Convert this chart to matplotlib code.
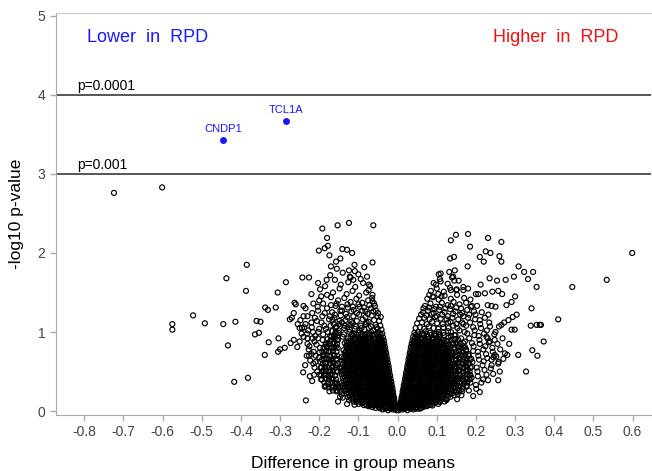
import numpy as np
import matplotlib
matplotlib.use("Agg")
import matplotlib.pyplot as plt

plt.rcParams['font.family'] = ['Liberation Sans', 'DejaVu Sans']

# ---------------- data (difference in group means, -log10 p) ----------------
# dense core, lower in RPD (negative difference)
down_core = [
 (-.003,.01),(-.007,.03),(-.012,.02),(-.018,.03),(-.024,.01),(-.031,.03),(-.038,.02),
 (-.004,.05),(-.009,.06),(-.015,.04),(-.021,.06),(-.027,.05),(-.034,.04),(-.041,.06),(-.048,.05),(-.056,.04),(-.064,.05),(-.073,.06),
 (-.006,.09),(-.011,.1),(-.017,.08),(-.023,.1),(-.029,.09),(-.036,.08),(-.043,.1),(-.05,.09),(-.057,.08),(-.065,.1),(-.072,.09),(-.08,.08),(-.089,.1),(-.099,.09),(-.11,.08),
 (-.008,.13),(-.014,.14),(-.02,.12),(-.026,.14),(-.033,.13),(-.04,.12),(-.047,.14),(-.054,.13),(-.061,.12),(-.068,.14),(-.076,.13),(-.084,.12),(-.092,.14),(-.101,.13),(-.112,.12),(-.124,.14),
 (-.009,.17),(-.015,.18),(-.022,.16),(-.029,.18),(-.036,.17),(-.043,.16),(-.05,.18),(-.057,.17),(-.064,.16),(-.071,.18),(-.079,.17),(-.087,.16),(-.095,.18),(-.104,.17),(-.114,.16),(-.127,.18),(-.14,.17),
 (-.011,.21),(-.017,.22),(-.024,.2),(-.031,.22),(-.038,.21),(-.045,.2),(-.052,.22),(-.059,.21),(-.066,.2),(-.074,.22),(-.082,.21),(-.09,.2),(-.098,.22),(-.107,.21),(-.117,.2),(-.129,.22),(-.143,.21),
 (-.012,.25),(-.019,.26),(-.026,.24),(-.033,.26),(-.04,.25),(-.047,.24),(-.055,.26),(-.062,.25),(-.069,.24),(-.077,.26),(-.085,.25),(-.093,.24),(-.101,.26),(-.11,.25),(-.12,.24),(-.132,.26),(-.146,.25),
 (-.013,.29),(-.02,.3),(-.027,.28),(-.034,.3),(-.041,.29),(-.048,.28),(-.056,.3),(-.063,.29),(-.071,.28),(-.078,.3),(-.086,.29),(-.094,.28),(-.103,.3),(-.112,.29),(-.122,.28),(-.134,.3),(-.15,.29),
 (-.015,.33),(-.021,.34),(-.028,.32),(-.036,.34),(-.043,.33),(-.05,.32),(-.058,.34),(-.065,.33),(-.073,.32),(-.08,.34),(-.088,.33),(-.096,.32),(-.105,.34),(-.114,.33),(-.124,.32),(-.136,.34),(-.152,.33),
 (-.016,.37),(-.023,.38),(-.03,.36),(-.037,.38),(-.044,.37),(-.052,.36),(-.059,.38),(-.067,.37),(-.074,.36),(-.082,.38),(-.09,.37),(-.098,.36),(-.107,.38),(-.116,.37),(-.126,.36),(-.138,.38),
 (-.018,.41),(-.025,.42),(-.032,.4),(-.039,.42),(-.046,.41),(-.053,.4),(-.061,.42),(-.068,.41),(-.076,.4),(-.083,.42),(-.091,.41),(-.099,.4),(-.108,.42),(-.117,.41),(-.127,.4),(-.14,.42),
 (-.019,.45),(-.026,.46),(-.033,.44),(-.04,.46),(-.048,.45),(-.055,.44),(-.062,.46),(-.07,.45),(-.077,.44),(-.085,.46),(-.093,.45),(-.101,.44),(-.11,.46),(-.119,.45),(-.13,.44),(-.142,.46),
 (-.021,.49),(-.028,.5),(-.035,.48),(-.042,.5),(-.049,.49),(-.057,.48),(-.064,.5),(-.071,.49),(-.079,.48),(-.087,.5),(-.095,.49),(-.103,.48),(-.112,.5),(-.121,.49),(-.132,.48),(-.145,.5),
 (-.022,.53),(-.029,.54),(-.036,.52),(-.044,.54),(-.051,.53),(-.058,.52),(-.066,.54),(-.073,.53),(-.081,.52),(-.089,.54),(-.097,.53),(-.105,.52),(-.114,.54),(-.123,.53),(-.134,.52),(-.147,.54),
 (-.023,.57),(-.03,.58),(-.038,.56),(-.045,.58),(-.052,.57),(-.06,.56),(-.067,.58),(-.075,.57),(-.083,.56),(-.091,.58),(-.099,.57),(-.107,.56),(-.116,.58),(-.126,.57),(-.137,.56),
 (-.025,.61),(-.032,.62),(-.039,.6),(-.047,.62),(-.054,.61),(-.061,.6),(-.069,.62),(-.077,.61),(-.085,.6),(-.093,.62),(-.101,.61),(-.109,.6),(-.118,.62),(-.128,.61),(-.14,.6),
 (-.026,.65),(-.033,.66),(-.041,.64),(-.048,.66),(-.056,.65),(-.063,.64),(-.071,.66),(-.079,.65),(-.087,.64),(-.095,.66),(-.103,.65),(-.111,.64),(-.12,.66),(-.13,.65),(-.142,.64),
 (-.028,.69),(-.035,.7),(-.042,.68),(-.05,.7),(-.057,.69),(-.065,.68),(-.073,.7),(-.081,.69),(-.089,.68),(-.097,.7),(-.105,.69),(-.113,.68),(-.122,.7),(-.132,.69),(-.144,.68),
 (-.029,.73),(-.036,.74),(-.044,.72),(-.051,.74),(-.059,.73),(-.067,.72),(-.075,.74),(-.083,.73),(-.091,.72),(-.099,.74),(-.107,.73),(-.116,.72),(-.125,.74),(-.135,.73),
 (-.031,.77),(-.038,.78),(-.045,.76),(-.053,.78),(-.061,.77),(-.069,.76),(-.077,.78),(-.085,.77),(-.093,.76),(-.101,.78),(-.11,.77),(-.119,.76),(-.128,.78),(-.138,.77),
 (-.032,.81),(-.04,.82),(-.047,.8),(-.055,.82),(-.063,.81),(-.071,.8),(-.079,.82),(-.087,.81),(-.095,.8),(-.104,.82),(-.113,.81),(-.122,.8),(-.131,.82),
 (-.034,.85),(-.041,.86),(-.049,.84),(-.057,.86),(-.065,.85),(-.073,.84),(-.081,.86),(-.09,.85),(-.098,.84),(-.107,.86),(-.116,.85),(-.125,.84),(-.135,.86),
 (-.035,.89),(-.043,.9),(-.051,.88),(-.059,.9),(-.067,.89),(-.075,.88),(-.084,.9),(-.092,.89),(-.101,.88),(-.11,.9),(-.12,.89),(-.13,.88),
 (-.037,.93),(-.046,.94),(-.055,.92),(-.064,.95),(-.073,.93),(-.083,.92),(-.093,.94),(-.103,.93),(-.114,.95),(-.126,.92),(-.14,.94),
 (-.039,.98),(-.048,.99),(-.058,.97),(-.068,1.0),(-.078,.98),(-.089,.97),(-.1,.99),(-.111,.98),(-.123,1.0),(-.137,.97),(-.151,.99),
 (-.041,1.03),(-.051,1.04),(-.062,1.02),(-.073,1.05),(-.085,1.03),(-.097,1.02),(-.109,1.04),(-.122,1.03),(-.136,1.05),(-.15,1.02),
 (-.044,1.08),(-.056,1.09),(-.068,1.07),(-.081,1.1),(-.094,1.08),(-.107,1.07),(-.121,1.09),(-.135,1.08),(-.149,1.1),
 (-.047,1.14),(-.06,1.15),(-.074,1.13),(-.089,1.16),(-.104,1.14),(-.118,1.13),(-.133,1.15),(-.148,1.14),
 (-.051,1.2),(-.066,1.21),(-.082,1.19),(-.098,1.22),(-.113,1.2),(-.129,1.19),(-.145,1.21),
]

# more of the densest part, lower in RPD
down_core2 = [
 (-.005,.035),(-.01,.04),(-.02,.035),(-.028,.04),(-.045,.035),
 (-.005,.07),(-.013,.07),(-.02,.075),(-.03,.07),(-.038,.075),(-.046,.07),(-.053,.075),(-.061,.07),(-.069,.075),(-.078,.07),(-.086,.075),
 (-.009,.11),(-.015,.11),(-.021,.115),(-.029,.11),(-.037,.115),(-.045,.11),(-.052,.115),(-.06,.11),(-.068,.115),(-.076,.11),(-.084,.115),(-.094,.11),(-.105,.115),
 (-.011,.15),(-.018,.155),(-.025,.15),(-.032,.155),(-.04,.15),(-.047,.155),(-.054,.15),(-.062,.155),(-.07,.15),(-.078,.155),(-.087,.15),(-.096,.155),(-.106,.15),(-.118,.155),
 (-.012,.19),(-.019,.195),(-.026,.19),(-.033,.195),(-.041,.19),(-.048,.195),(-.055,.19),(-.063,.195),(-.07,.19),(-.078,.195),(-.086,.19),(-.094,.195),(-.103,.19),(-.112,.195),(-.122,.19),
 (-.014,.23),(-.021,.235),(-.028,.23),(-.035,.235),(-.043,.23),(-.05,.235),(-.058,.23),(-.065,.235),(-.073,.23),(-.081,.235),(-.089,.23),(-.097,.235),(-.106,.23),(-.115,.235),(-.125,.23),
 (-.016,.27),(-.023,.275),(-.03,.27),(-.037,.275),(-.044,.27),(-.052,.275),(-.059,.27),(-.067,.275),(-.074,.27),(-.082,.275),(-.09,.27),(-.098,.275),(-.107,.27),(-.116,.275),(-.126,.27),(-.139,.275),
 (-.017,.31),(-.024,.315),(-.031,.31),(-.038,.315),(-.045,.31),(-.053,.315),(-.06,.31),(-.068,.315),(-.075,.31),(-.083,.315),(-.091,.31),(-.099,.315),(-.108,.31),(-.117,.315),(-.128,.31),(-.141,.315),
 (-.019,.35),(-.026,.355),(-.033,.35),(-.04,.355),(-.048,.35),(-.055,.355),(-.063,.35),(-.07,.355),(-.078,.35),(-.086,.355),(-.094,.35),(-.102,.355),(-.111,.35),(-.12,.355),(-.13,.35),(-.143,.355),
 (-.021,.39),(-.028,.395),(-.035,.39),(-.042,.395),(-.05,.39),(-.057,.395),(-.065,.39),(-.072,.395),(-.08,.39),(-.087,.395),(-.095,.39),(-.103,.395),(-.112,.39),(-.121,.395),(-.132,.39),
 (-.022,.43),(-.029,.435),(-.036,.43),(-.044,.435),(-.051,.43),(-.058,.435),(-.066,.43),(-.073,.435),(-.081,.43),(-.089,.435),(-.097,.43),(-.105,.435),(-.114,.43),(-.124,.435),(-.135,.43),
 (-.024,.47),(-.031,.475),(-.038,.47),(-.045,.475),(-.053,.47),(-.06,.475),(-.068,.47),(-.075,.475),(-.083,.47),(-.091,.475),(-.099,.47),(-.107,.475),(-.116,.47),(-.126,.475),(-.137,.47),
 (-.025,.51),(-.032,.515),(-.04,.51),(-.047,.515),(-.055,.51),(-.062,.515),(-.07,.51),(-.077,.515),(-.085,.51),(-.093,.515),(-.101,.51),(-.109,.515),(-.118,.51),(-.128,.515),(-.139,.51),
 (-.026,.55),(-.034,.555),(-.041,.55),(-.049,.555),(-.056,.55),(-.064,.555),(-.071,.55),(-.079,.555),(-.087,.55),(-.095,.555),(-.103,.55),(-.111,.555),(-.121,.55),(-.131,.555),(-.142,.55),
 (-.028,.59),(-.035,.595),(-.043,.59),(-.05,.595),(-.058,.59),(-.065,.595),(-.073,.59),(-.081,.595),(-.089,.59),(-.097,.595),(-.105,.59),(-.114,.595),(-.123,.59),(-.133,.595),
 (-.029,.63),(-.037,.635),(-.044,.63),(-.052,.635),(-.059,.63),(-.067,.635),(-.075,.63),(-.083,.635),(-.091,.63),(-.099,.635),(-.107,.63),(-.116,.635),(-.125,.63),(-.135,.635),
 (-.031,.67),(-.038,.675),(-.046,.67),(-.053,.675),(-.061,.67),(-.069,.675),(-.077,.67),(-.085,.675),(-.093,.67),(-.101,.675),(-.109,.67),(-.118,.675),(-.127,.67),(-.137,.675),
 (-.032,.71),(-.04,.715),(-.047,.71),(-.055,.715),(-.063,.71),(-.071,.715),(-.079,.71),(-.087,.715),(-.095,.71),(-.103,.715),(-.111,.71),(-.12,.715),(-.13,.71),
 (-.034,.75),(-.041,.755),(-.049,.75),(-.057,.755),(-.065,.75),(-.073,.755),(-.081,.75),(-.089,.755),(-.097,.75),(-.106,.755),(-.114,.75),(-.123,.755),(-.133,.75),
 (-.035,.79),(-.043,.795),(-.051,.79),(-.059,.795),(-.067,.79),(-.075,.795),(-.083,.79),(-.091,.795),(-.1,.79),(-.108,.795),(-.117,.79),(-.126,.795),
 (-.037,.83),(-.045,.835),(-.053,.83),(-.061,.835),(-.069,.83),(-.077,.835),(-.085,.83),(-.094,.835),(-.102,.83),(-.111,.835),(-.12,.83),(-.13,.835),
 (-.039,.87),(-.047,.875),(-.055,.87),(-.063,.875),(-.071,.87),(-.08,.875),(-.088,.87),(-.097,.875),(-.106,.87),(-.115,.875),(-.125,.87),
 (-.041,.915),(-.05,.92),(-.06,.915),(-.069,.92),(-.078,.915),(-.088,.92),(-.098,.915),(-.108,.92),(-.12,.915),
 (-.043,.965),(-.053,.97),(-.063,.965),(-.073,.97),(-.083,.965),(-.094,.97),(-.105,.965),(-.117,.97),
]

# outer dense band, lower in RPD
down_band = [
 (-.156,.25),(-.165,.26),(-.174,.25),
 (-.158,.3),(-.167,.31),(-.176,.3),(-.185,.31),
 (-.16,.35),(-.169,.36),(-.178,.35),(-.187,.36),
 (-.157,.4),(-.166,.41),(-.175,.4),(-.184,.41),(-.193,.4),
 (-.159,.45),(-.168,.46),(-.177,.45),(-.186,.46),(-.195,.45),
 (-.156,.5),(-.165,.51),(-.174,.5),(-.183,.51),(-.192,.5),
 (-.158,.55),(-.167,.56),(-.176,.55),(-.185,.56),(-.194,.55),
 (-.155,.6),(-.164,.61),(-.173,.6),(-.182,.61),(-.191,.6),
 (-.157,.65),(-.166,.66),(-.175,.65),(-.184,.66),(-.193,.65),
 (-.154,.7),(-.163,.71),(-.172,.7),(-.181,.71),(-.19,.7),
 (-.156,.75),(-.165,.76),(-.174,.75),(-.183,.76),(-.192,.75),
 (-.153,.8),(-.162,.81),(-.171,.8),(-.18,.81),(-.189,.8),
 (-.155,.85),(-.164,.86),(-.173,.85),(-.182,.86),
 (-.152,.9),(-.161,.91),(-.17,.9),(-.179,.91),
 (-.154,.95),(-.163,.96),(-.172,.95),
 (-.158,1.0),(-.167,1.01),
 (-.05,1.24),(-.062,1.26),(-.076,1.23),(-.09,1.27),(-.104,1.24),(-.118,1.26),(-.132,1.23),(-.146,1.27),(-.16,1.22),
 (-.058,1.33),(-.072,1.34),(-.086,1.31),(-.1,1.35),(-.114,1.32),(-.128,1.35),(-.142,1.32),(-.156,1.36),(-.17,1.34),
 (-.054,1.06),(-.079,1.12),(-.092,1.05),(-.115,1.11),(-.128,1.06),(-.142,1.12),(-.156,1.07),(-.166,1.15),(-.158,.98),
]

# scattered points, lower in RPD
down_scatter = [
 (-.155,.36),(-.16,.45),(-.158,.58),(-.162,.7),(-.157,.82),(-.16,.95),(-.163,1.1),(-.167,1.25),
 (-.168,.4),(-.172,.52),(-.17,.64),(-.175,.76),(-.172,.88),(-.178,1.0),(-.175,1.16),(-.18,1.3),
 (-.182,.46),(-.185,.6),(-.188,.72),(-.184,.84),(-.19,.97),(-.187,1.08),(-.192,1.2),(-.19,1.36),
 (-.196,.55),(-.2,.68),(-.198,.8),(-.203,.92),(-.2,1.04),(-.206,1.14),(-.203,1.27),
 (-.21,.62),(-.214,.75),(-.212,.88),(-.216,1.0),(-.22,1.12),(-.218,1.24),
 (-.226,.7),(-.23,.85),(-.228,1.02),(-.235,1.1),(-.24,.94),(-.244,1.05),(-.25,.88),
 (-.152,.12),(-.154,.26),(-.153,.5),(-.156,.66),(-.155,.9),(-.158,1.05),(-.161,1.18),(-.164,.3),
 (-.166,.56),(-.167,.8),(-.169,.94),(-.171,1.08),(-.173,1.2),(-.176,.44),(-.179,.66),(-.181,.82),
 (-.183,1.04),(-.186,1.24),(-.189,.52),(-.191,.9),(-.194,1.12),(-.197,.62),(-.199,.74),(-.202,1.0),
 (-.204,1.32),(-.207,.84),(-.209,.7),(-.211,1.18),(-.213,.46),(-.217,.92),(-.219,1.06),(-.223,.64),
 (-.227,.78),(-.231,.98),(-.236,.58),(-.24,1.2),
 (-.055,1.27),(-.068,1.3),(-.082,1.26),(-.097,1.32),(-.112,1.28),(-.127,1.31),(-.142,1.27),(-.158,1.33),
 (-.06,1.36),(-.075,1.4),(-.09,1.37),(-.105,1.42),(-.12,1.38),(-.136,1.43),(-.152,1.4),(-.17,1.44),
 (-.064,1.47),(-.08,1.5),(-.098,1.46),(-.115,1.52),(-.13,1.48),(-.148,1.55),(-.165,1.5),(-.18,1.47),
 (-.07,1.58),(-.088,1.62),(-.108,1.57),(-.126,1.63),(-.145,1.6),(-.16,1.66),(-.185,1.58),
 (-.078,1.7),(-.1,1.73),(-.12,1.69),(-.14,1.75),(-.172,1.72),
 (-.085,1.82),(-.11,1.85),(-.155,1.8),
 (-.192,2.31),(-.153,2.35),(-.124,2.38),(-.062,2.35),(-.18,2.19),(-.178,2.09),(-.186,2.06),(-.201,2.03),
 (-.174,1.97),(-.141,2.05),(-.129,2.04),(-.116,2.0),(-.157,1.89),(-.146,1.93),(-.17,1.83),(-.064,1.88),
 (-.124,1.78),(-.109,1.77),(-.094,1.67),(-.073,1.6),(-.074,1.53),(-.065,1.43),(-.064,1.39),(-.043,1.19),
 (-.203,1.62),(-.198,1.54),(-.181,1.66),(-.122,1.70),(-.113,1.66),
 (-.724,2.76),(-.601,2.83),(-.575,1.10),(-.575,1.03),(-.522,1.21),(-.492,1.11),(-.445,1.10),(-.414,1.13),
 (-.433,.83),(-.437,1.68),(-.385,1.85),(-.387,1.52),(-.417,.37),(-.382,.42),(-.364,.97),(-.354,.99),
 (-.36,1.14),(-.35,1.13),(-.338,1.31),(-.331,1.28),(-.339,.71),(-.329,.87),(-.306,1.5),(-.311,1.31),
 (-.304,.92),(-.305,.75),(-.3,.78),(-.288,.8),(-.285,1.63),(-.273,.86),(-.275,1.16),(-.263,1.37),
 (-.26,1.35),(-.265,1.24),(-.265,.9),(-.256,.81),(-.243,1.69),(-.226,1.69),(-.24,1.33),(-.235,1.3),
 (-.241,.49),(-.234,.135),(-.224,.44),(-.183,.32),(-.2,.46),(-.129,.09),(-.147,.18),(-.186,.31),
 (-.27,1.18),(-.255,1.1),(-.25,1.05),(-.245,.98),(-.23,.92),(-.225,.82),(-.22,.72),(-.232,.7),
 (-.215,.6),(-.212,.55),(-.205,.5),(-.218,.38),(-.195,.4),(-.23,1.2),(-.215,1.36),(-.2,1.4),
 (-.22,1.48),(-.195,1.45),(-.21,.95),(-.248,1.15),(-.238,1.06),
]

# dense core, higher in RPD (positive difference)
up_core = [
 (.003,.01),(.008,.03),(.013,.02),(.019,.03),(.025,.01),(.032,.03),(.04,.02),(.05,.03),
 (.005,.05),(.01,.06),(.016,.04),(.022,.06),(.028,.05),(.035,.04),(.042,.06),(.049,.05),(.057,.04),(.065,.05),(.074,.06),
 (.007,.09),(.012,.1),(.018,.08),(.024,.1),(.031,.09),(.038,.08),(.045,.1),(.052,.09),(.06,.08),(.068,.1),(.076,.09),(.085,.08),(.094,.1),(.104,.09),
 (.009,.13),(.015,.14),(.021,.12),(.028,.14),(.035,.13),(.042,.12),(.049,.14),(.057,.13),(.065,.12),(.073,.14),(.081,.13),(.09,.12),(.099,.14),(.109,.13),(.12,.12),
 (.01,.17),(.016,.18),(.023,.16),(.03,.18),(.037,.17),(.044,.16),(.052,.18),(.06,.17),(.068,.16),(.076,.18),(.084,.17),(.093,.16),(.102,.18),(.112,.17),(.123,.16),(.135,.18),
 (.012,.21),(.018,.22),(.025,.2),(.032,.22),(.04,.21),(.047,.2),(.055,.22),(.063,.21),(.071,.2),(.079,.22),(.087,.21),(.096,.2),(.105,.22),(.115,.21),(.126,.2),(.138,.22),
 (.013,.25),(.02,.26),(.027,.24),(.034,.26),(.041,.25),(.049,.24),(.057,.26),(.065,.25),(.073,.24),(.081,.26),(.089,.25),(.098,.24),(.107,.26),(.117,.25),(.128,.24),(.14,.26),
 (.015,.29),(.021,.3),(.028,.28),(.036,.3),(.043,.29),(.051,.28),(.059,.3),(.067,.29),(.075,.28),(.083,.3),(.091,.29),(.1,.28),(.109,.3),(.119,.29),(.13,.28),(.142,.3),
 (.016,.33),(.023,.34),(.03,.32),(.037,.34),(.045,.33),(.053,.32),(.061,.34),(.069,.33),(.077,.32),(.085,.34),(.093,.33),(.102,.32),(.111,.34),(.121,.33),(.132,.32),(.144,.34),
 (.018,.37),(.025,.38),(.032,.36),(.039,.38),(.047,.37),(.055,.36),(.063,.38),(.071,.37),(.079,.36),(.087,.38),(.095,.37),(.104,.36),(.113,.38),(.123,.37),(.134,.36),(.146,.38),
 (.019,.41),(.026,.42),(.033,.4),(.041,.42),(.049,.41),(.057,.4),(.065,.42),(.073,.41),(.081,.4),(.089,.42),(.097,.41),(.106,.4),(.115,.42),(.125,.41),(.136,.4),(.147,.42),
 (.021,.45),(.028,.46),(.035,.44),(.043,.46),(.051,.45),(.059,.44),(.067,.46),(.075,.45),(.083,.44),(.091,.46),(.099,.45),(.108,.44),(.117,.46),(.127,.45),(.138,.44),(.148,.46),
 (.022,.49),(.029,.5),(.037,.48),(.045,.5),(.053,.49),(.061,.48),(.069,.5),(.077,.49),(.085,.48),(.093,.5),(.101,.49),(.11,.48),(.119,.5),(.129,.49),(.14,.48),
 (.024,.53),(.031,.54),(.039,.52),(.047,.54),(.055,.53),(.063,.52),(.071,.54),(.079,.53),(.087,.52),(.095,.54),(.103,.53),(.112,.52),(.121,.54),(.131,.53),(.142,.52),
 (.025,.57),(.032,.58),(.04,.56),(.048,.58),(.056,.57),(.064,.56),(.072,.58),(.08,.57),(.088,.56),(.096,.58),(.105,.57),(.114,.56),(.123,.58),(.133,.57),(.144,.56),
 (.027,.61),(.034,.62),(.042,.6),(.05,.62),(.058,.61),(.066,.6),(.074,.62),(.082,.61),(.09,.6),(.098,.62),(.107,.61),(.116,.6),(.125,.62),(.135,.61),(.146,.6),
 (.028,.65),(.036,.66),(.044,.64),(.052,.66),(.06,.65),(.068,.64),(.076,.66),(.084,.65),(.092,.64),(.1,.66),(.109,.65),(.118,.64),(.127,.66),(.137,.65),
 (.03,.69),(.037,.7),(.045,.68),(.053,.7),(.061,.69),(.069,.68),(.077,.7),(.085,.69),(.093,.68),(.102,.7),(.111,.69),(.12,.68),(.129,.7),(.139,.69),
 (.031,.73),(.039,.74),(.047,.72),(.055,.74),(.063,.73),(.071,.72),(.079,.74),(.087,.73),(.095,.72),(.104,.74),(.113,.73),(.122,.72),(.131,.74),(.141,.73),
 (.033,.77),(.04,.78),(.048,.76),(.056,.78),(.064,.77),(.072,.76),(.081,.78),(.089,.77),(.097,.76),(.106,.78),(.115,.77),(.124,.76),(.133,.78),
 (.034,.81),(.042,.82),(.05,.8),(.058,.82),(.066,.81),(.074,.8),(.083,.82),(.091,.81),(.099,.8),(.108,.82),(.117,.81),(.126,.8),(.135,.82),
 (.036,.85),(.044,.86),(.052,.84),(.06,.86),(.068,.85),(.076,.84),(.085,.86),(.093,.85),(.102,.84),(.111,.86),(.12,.85),(.13,.84),
 (.038,.89),(.046,.9),(.054,.88),(.062,.9),(.07,.89),(.079,.88),(.088,.9),(.097,.89),(.106,.88),(.115,.9),(.125,.89),
 (.04,.94),(.049,.95),(.058,.93),(.067,.96),(.077,.94),(.087,.93),(.097,.95),(.107,.94),(.118,.96),(.13,.93),
 (.043,.99),(.052,1.0),(.062,.98),(.072,1.01),(.083,.99),(.094,.98),(.105,1.0),(.117,.99),(.129,1.01),
 (.046,1.05),(.057,1.06),(.068,1.04),(.08,1.07),(.092,1.05),(.104,1.04),(.117,1.06),(.13,1.05),
 (.05,1.11),(.062,1.12),(.075,1.1),(.088,1.13),(.101,1.11),(.115,1.1),(.129,1.12),
 (.055,1.17),(.068,1.18),(.082,1.16),(.096,1.19),(.11,1.17),(.125,1.16),(.14,1.18),
]

# more of the densest part, higher in RPD
up_core2 = [
 (.005,.035),(.011,.04),(.02,.035),(.03,.04),(.045,.035),(.06,.04),
 (.006,.07),(.014,.07),(.021,.075),(.028,.07),(.035,.075),(.042,.07),(.049,.075),(.056,.07),(.064,.075),(.072,.07),(.08,.075),(.089,.07),
 (.009,.11),(.015,.115),(.021,.11),(.028,.115),(.035,.11),(.042,.115),(.049,.11),(.056,.115),(.064,.11),(.072,.115),(.08,.11),(.089,.115),(.098,.11),(.108,.115),
 (.011,.15),(.018,.155),(.025,.15),(.032,.155),(.039,.15),(.046,.155),(.053,.15),(.061,.155),(.069,.15),(.077,.155),(.085,.15),(.094,.155),(.104,.15),(.114,.155),(.125,.15),
 (.013,.19),(.02,.195),(.027,.19),(.034,.195),(.041,.19),(.048,.195),(.056,.19),(.064,.195),(.072,.19),(.08,.195),(.088,.19),(.097,.195),(.107,.19),(.117,.195),(.129,.19),
 (.015,.23),(.022,.235),(.029,.23),(.036,.235),(.044,.23),(.052,.235),(.06,.23),(.068,.235),(.076,.23),(.084,.235),(.092,.23),(.101,.235),(.11,.23),(.12,.235),(.132,.23),
 (.016,.27),(.023,.275),(.031,.27),(.038,.275),(.046,.27),(.054,.275),(.062,.27),(.07,.275),(.078,.27),(.086,.275),(.094,.27),(.103,.275),(.112,.27),(.122,.275),(.134,.27),
 (.018,.31),(.025,.315),(.032,.31),(.04,.315),(.048,.31),(.056,.315),(.064,.31),(.072,.315),(.08,.31),(.088,.315),(.096,.31),(.105,.315),(.114,.31),(.124,.315),(.136,.31),
 (.02,.35),(.027,.355),(.034,.35),(.042,.355),(.05,.35),(.058,.355),(.066,.35),(.074,.355),(.082,.35),(.09,.355),(.098,.35),(.107,.355),(.116,.35),(.127,.355),(.138,.35),
 (.021,.39),(.028,.395),(.036,.39),(.044,.395),(.052,.39),(.06,.395),(.068,.39),(.076,.395),(.084,.39),(.092,.395),(.1,.39),(.109,.395),(.118,.39),(.129,.395),(.14,.39),
 (.023,.43),(.03,.435),(.038,.43),(.046,.435),(.054,.43),(.062,.435),(.07,.43),(.078,.435),(.086,.43),(.094,.435),(.103,.43),(.112,.435),(.121,.43),(.131,.435),(.142,.43),
 (.024,.47),(.032,.475),(.04,.47),(.048,.475),(.056,.47),(.064,.475),(.072,.47),(.08,.475),(.088,.47),(.096,.475),(.105,.47),(.114,.475),(.123,.47),(.133,.475),
 (.026,.51),(.034,.515),(.042,.51),(.05,.515),(.058,.51),(.066,.515),(.074,.51),(.082,.515),(.09,.51),(.098,.515),(.107,.51),(.116,.515),(.125,.51),(.135,.515),
 (.027,.55),(.035,.555),(.043,.55),(.051,.555),(.059,.55),(.067,.555),(.075,.55),(.083,.555),(.091,.55),(.1,.555),(.109,.55),(.118,.555),(.127,.55),(.137,.555),
 (.029,.59),(.037,.595),(.045,.59),(.053,.595),(.061,.59),(.069,.595),(.077,.59),(.085,.595),(.093,.59),(.102,.595),(.111,.59),(.12,.595),(.129,.59),(.139,.595),
 (.031,.63),(.039,.635),(.047,.63),(.055,.635),(.063,.63),(.071,.635),(.079,.63),(.087,.635),(.095,.63),(.104,.635),(.113,.63),(.122,.635),(.131,.63),
 (.032,.67),(.04,.675),(.048,.67),(.056,.675),(.064,.67),(.072,.675),(.08,.67),(.088,.675),(.097,.67),(.106,.675),(.115,.67),(.124,.675),(.133,.67),
 (.034,.71),(.042,.715),(.05,.71),(.058,.715),(.066,.71),(.074,.715),(.082,.71),(.091,.715),(.1,.71),(.109,.715),(.118,.71),(.127,.715),(.136,.71),
 (.036,.75),(.044,.755),(.052,.75),(.06,.755),(.068,.75),(.076,.755),(.085,.75),(.093,.755),(.102,.75),(.111,.755),(.12,.75),(.129,.755),
 (.037,.79),(.045,.795),(.053,.79),(.061,.795),(.07,.79),(.078,.795),(.087,.79),(.095,.795),(.104,.79),(.113,.795),(.122,.79),(.131,.795),
 (.039,.83),(.047,.835),(.055,.83),(.063,.835),(.072,.83),(.08,.835),(.089,.83),(.097,.835),(.106,.83),(.115,.835),(.125,.83),
 (.041,.87),(.049,.875),(.057,.87),(.066,.875),(.074,.87),(.083,.875),(.092,.87),(.101,.875),(.11,.875),(.12,.87),
 (.043,.915),(.052,.92),(.061,.915),(.07,.92),(.08,.915),(.09,.92),(.1,.915),(.11,.92),
 (.046,.965),(.055,.97),(.065,.965),(.075,.97),(.086,.965),(.097,.97),(.108,.965),
]

# outer dense band, higher in RPD
up_band = [
 (.145,.2),(.153,.21),
 (.148,.25),(.156,.26),(.165,.25),
 (.15,.3),(.158,.31),(.167,.3),(.176,.31),
 (.152,.35),(.16,.36),(.169,.35),(.178,.36),
 (.149,.4),(.157,.41),(.166,.4),(.175,.41),(.184,.4),
 (.151,.45),(.159,.46),(.168,.45),(.177,.46),(.186,.45),
 (.149,.5),(.157,.51),(.166,.5),(.175,.51),(.184,.5),
 (.151,.55),(.159,.56),(.168,.55),(.177,.56),(.186,.55),
 (.148,.6),(.156,.61),(.165,.6),(.174,.61),(.183,.6),
 (.15,.65),(.158,.66),(.167,.65),(.176,.66),(.185,.65),
 (.147,.7),(.155,.71),(.164,.7),(.173,.71),(.182,.7),
 (.149,.75),(.157,.76),(.166,.75),(.175,.76),
 (.146,.8),(.154,.81),(.163,.8),(.172,.81),
 (.142,.85),(.15,.86),(.159,.85),(.168,.86),
 (.138,.9),(.146,.91),(.155,.9),
 (.136,.95),(.145,.96),
 (.06,1.22),(.073,1.21),(.087,1.23),(.1,1.2),(.114,1.22),(.128,1.2),(.142,1.23),(.155,1.16),(.168,1.1),
 (.066,1.3),(.08,1.31),(.094,1.29),(.108,1.32),(.122,1.3),(.136,1.33),(.15,1.31),(.165,1.24),(.183,1.22),
 (.136,1.0),(.142,1.08),(.135,1.13),(.148,.96),(.153,1.05),(.14,.86),(.147,.78),(.15,.64),(.148,.56),
]

# scattered points, higher in RPD
up_scatter = [
 (.15,.24),(.155,.32),(.152,.42),(.158,.52),(.155,.62),(.16,.72),(.157,.82),(.162,.92),(.158,1.02),(.165,1.12),(.16,1.22),
 (.165,.28),(.17,.38),(.168,.48),(.173,.58),(.17,.68),(.175,.78),(.172,.88),(.178,.98),(.175,1.08),(.18,1.18),(.178,1.28),
 (.182,.26),(.186,.36),(.184,.46),(.19,.56),(.188,.66),(.193,.76),(.19,.86),(.196,.96),(.193,1.06),(.198,1.16),(.195,1.26),
 (.2,.33),(.205,.44),(.202,.55),(.208,.65),(.205,.75),(.21,.85),(.207,.95),(.213,1.05),(.21,1.15),(.215,1.25),
 (.218,.4),(.222,.52),(.22,.63),(.226,.72),(.224,.82),(.23,.92),(.228,1.02),(.234,1.12),(.232,1.22),
 (.24,.58),(.245,.68),(.242,.8),(.248,.9),(.25,1.0),(.255,.85),(.262,.78),(.258,.62),
 (.145,.5),(.148,.7),(.146,.9),(.15,1.1),(.152,.15),(.163,.2),(.166,.4),(.167,.6),(.169,.8),(.171,1.0),
 (.168,1.2),(.176,.32),(.179,.52),(.181,.72),(.183,.92),(.185,1.12),(.187,1.32),(.189,.42),(.191,.62),
 (.194,.82),(.197,1.02),(.199,1.22),(.201,.28),(.204,.5),(.206,.7),(.209,.9),(.211,1.1),(.214,.36),
 (.217,.58),(.219,.78),(.221,.98),(.223,1.18),(.227,.46),(.229,.67),(.233,.87),(.236,1.07),(.238,.54),
 (.243,.75),(.247,.97),(.252,.69),(.268,.92),(.27,.66),(.285,.85),
 (.065,1.25),(.078,1.27),(.092,1.24),(.106,1.28),(.12,1.25),(.134,1.29),(.148,1.26),(.162,1.3),
 (.07,1.33),(.084,1.36),(.098,1.32),(.113,1.37),(.128,1.34),(.143,1.38),(.158,1.35),(.175,1.37),(.19,1.33),
 (.076,1.42),(.09,1.45),(.105,1.41),(.12,1.46),(.136,1.42),(.152,1.47),(.17,1.43),(.186,1.41),
 (.085,1.52),(.1,1.55),(.118,1.51),(.134,1.56),(.15,1.53),(.168,1.57),
 (.092,1.62),(.11,1.64),(.128,1.61),(.145,1.65),
 (.136,2.16),(.149,2.23),(.18,2.24),(.185,2.08),(.231,2.19),(.265,2.14),(.225,2.02),(.237,2.0),
 (.21,1.95),(.22,1.89),(.26,1.96),(.265,1.89),(.134,1.93),(.144,1.95),(.179,1.83),(.309,1.83),
 (.323,1.76),(.346,1.76),(.333,1.67),(.355,1.57),(.105,1.73),(.108,1.67),(.098,1.6),(.132,1.76),
 (.146,1.78),(.139,1.69),(.156,1.65),(.235,1.68),(.254,1.65),(.276,1.66),(.297,1.7),(.212,1.6),
 (.081,1.47),(.091,1.44),(.104,1.48),(.112,1.45),(.136,1.53),(.151,1.54),(.168,1.53),(.18,1.55),
 (.2,1.48),(.206,1.48),(.223,1.49),(.242,1.51),(.257,1.52),(.267,1.48),(.3,1.45),(.291,1.38),
 (.278,1.34),(.342,1.3),(.23,1.34),(.24,1.33),(.25,1.32),(.203,1.33),(.41,1.16),(.34,1.08),
 (.355,1.09),(.363,1.09),(.373,.88),(.344,.77),(.357,.7),(.328,.5),(.308,.71),(.304,1.22),
 (.294,1.19),(.283,1.15),(.272,1.12),(.265,1.09),(.259,1.07),(.291,1.03),(.299,1.03),(.274,.73),
 (.28,.71),(.257,.6),(.261,.5),(.257,.39),(.231,.39),(.244,.47),(.21,.24),(.193,.19),
 (.24,.65),(.248,.71),(.227,.94),(.236,.88),(.599,2.0),(.534,1.66),(.446,1.57),(.366,1.09),
 (.057,.03),(.1,.14),(.125,.14),(.11,1.74),(.142,1.70),
]

# highlighted genes
gene_names = ["CNDP1", "TCL1A"]
gene_x = [-0.445, -0.285]
gene_y = [3.43, 3.67]

# significance thresholds
thr_p = [0.001, 0.0001]
thr_labels = ["p=0.001", "p=0.0001"]

x_ticks = [-0.8, -0.7, -0.6, -0.5, -0.4, -0.3, -0.2, -0.1, 0.0, 0.1, 0.2, 0.3, 0.4, 0.5, 0.6]
y_ticks = [0, 1, 2, 3, 4, 5]

# ---------------- plot ----------------
fig = plt.figure(figsize=(6.52, 4.71), dpi=100)
ax = fig.add_axes([56/652, 56/471, 595/652, (415-12.7)/471])

pts = np.array(down_core + down_core2 + down_band + down_scatter
               + up_core + up_core2 + up_band + up_scatter)
ax.scatter(pts[:, 0], pts[:, 1], s=13, facecolors='none', edgecolors='black',
           linewidths=0.85, zorder=3)

ax.scatter(gene_x, gene_y, s=16, color='#1a1aff', zorder=4)
for nm, gx, gy in zip(gene_names, gene_x, gene_y):
    ax.text(gx, gy + 0.07, nm, color='#1a1aff', fontsize=8, ha='center', va='bottom')

for p, lab in zip(thr_p, thr_labels):
    yv = -np.log10(p)
    ax.axhline(yv, color='#555555', lw=1.4, zorder=2)
    ax.text(-0.818, yv + 0.02, lab, fontsize=10, ha='left', va='bottom', color='black')

ax.text(-0.793, 4.72, "Lower  in  RPD", color='#1a1aff', fontsize=13, ha='left', va='center')
ax.text(0.2425, 4.72, "Higher  in  RPD", color='#ee1111', fontsize=13, ha='left', va='center')

ax.set_xlim(-0.872, 0.647)
ax.set_ylim(-0.05, 5.04)
ax.set_xticks(x_ticks)
ax.set_xticklabels([f"{t:.1f}" for t in x_ticks])
ax.set_yticks(y_ticks)
ax.tick_params(axis='both', colors='#aaaaaa', labelcolor='#444444', labelsize=10,
               length=4, width=1)
ax.set_xlabel("Difference in group means", fontsize=12.5, labelpad=12)
ax.set_ylabel("-log10 p-value", fontsize=12.5, labelpad=10)

for s in ['left', 'bottom']:
    ax.spines[s].set_color('#aaaaaa')
ax.spines['top'].set_color('#cccccc')
ax.spines['right'].set_visible(False)

fig.savefig("out.png", dpi=100)
